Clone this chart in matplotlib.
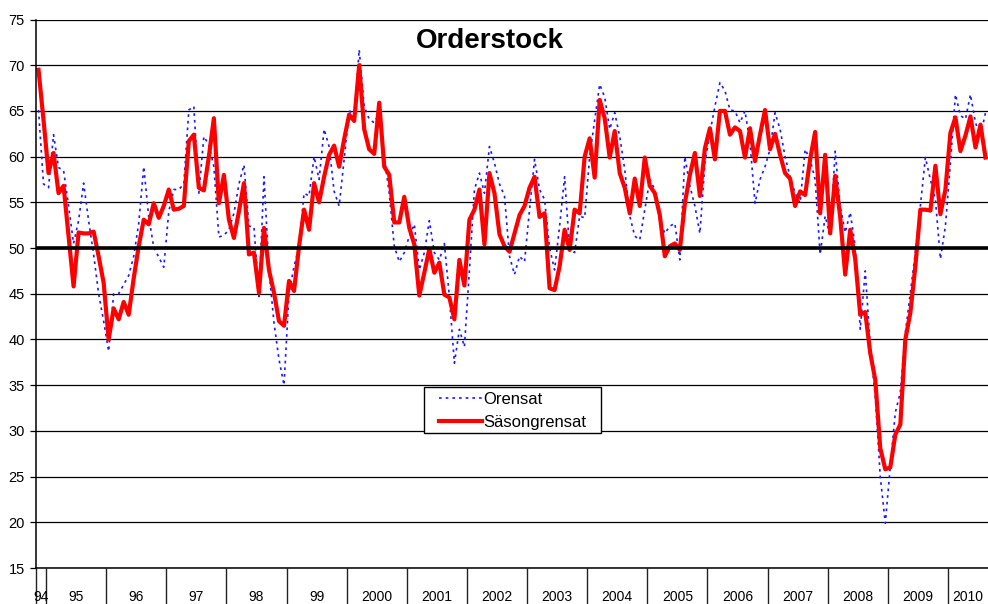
import matplotlib
matplotlib.use('Agg')
import matplotlib.pyplot as plt
import matplotlib.patches as mpatches
import numpy as np
import pandas as pd

plt.rcParams['font.family'] = ['Liberation Sans', 'DejaVu Sans']

# Monthly data, Nov 1994 .. Aug 2010
start_month = '1994-11'

orensat = [
    65.1, 57.0,
    56.6, 62.4, 58.8, 58.5, 54.6, 50.5, 53.0, 57.1, 53.0, 49.3, 45.0, 42.0,
    38.7, 45.0, 45.0, 46.0, 47.0, 49.1, 52.7, 58.9, 53.4, 50.1, 49.0, 47.9,
    54.0, 56.4, 56.4, 57.0, 65.1, 65.5, 56.0, 62.2, 61.3, 58.9, 51.2, 51.4,
    52.0, 53.8, 57.0, 59.1, 52.4, 52.3, 44.7, 57.8, 47.6, 41.8, 37.8, 35.0,
    45.1, 48.0, 50.2, 56.0, 55.7, 60.0, 57.5, 63.0, 61.1, 56.2, 54.6, 59.7,
    65.1, 64.1, 71.7, 65.5, 64.1, 63.7, 64.8, 60.0, 56.0, 50.2, 48.5, 49.5,
    51.3, 52.6, 47.6, 49.5, 53.0, 49.5, 48.7, 50.5, 44.7, 37.4, 41.1, 39.2,
    47.6, 56.4, 58.2, 56.0, 61.1, 59.3, 57.0, 55.7, 49.1, 47.1, 49.1, 48.5,
    54.2, 59.7, 56.4, 55.3, 50.0, 47.6, 52.4, 57.8, 49.8, 49.5, 53.5, 53.3,
    60.0, 64.0, 67.9, 66.5, 63.0, 64.8, 62.2, 58.6, 53.5, 51.3, 50.9, 54.2,
    57.5, 56.4, 53.1, 51.6, 52.4, 52.7, 48.7, 60.0, 56.8, 54.6, 51.6, 59.3,
    62.6, 65.5, 68.1, 67.2, 65.1, 65.0, 63.7, 65.0, 61.5, 54.9, 57.5, 58.9,
    60.8, 64.8, 63.0, 60.0, 57.8, 56.0, 54.9, 60.8, 59.7, 57.5, 49.3, 53.5,
    51.3, 60.6, 54.6, 51.7, 53.9, 50.2, 41.1, 47.5, 39.3, 33.8, 25.0, 19.9,
    26.1, 32.0, 34.2, 40.7, 45.1, 49.5, 54.6, 59.9, 57.5, 55.3, 48.8, 52.4,
    59.3, 66.8, 64.5, 64.1, 66.8, 63.7, 62.3, 64.8,
]

sasongrensat = [
    69.5, 64.0,
    58.2, 60.4, 56.0, 56.8, 51.3, 45.8, 51.7, 51.6, 51.6, 51.8, 49.1, 46.2,
    40.0, 43.4, 42.2, 44.1, 42.7, 46.7, 50.2, 53.1, 52.6, 54.9, 53.3, 54.6,
    56.4, 54.2, 54.3, 54.6, 61.7, 62.4, 56.6, 56.3, 60.0, 64.2, 54.9, 58.0,
    53.1, 51.1, 54.0, 57.1, 49.3, 49.5, 45.1, 52.2, 47.6, 45.1, 42.0, 41.5,
    46.4, 45.3, 50.2, 54.2, 52.0, 57.1, 55.0, 57.8, 60.2, 61.2, 58.9, 61.9,
    64.6, 63.9, 70.0, 63.0, 60.8, 60.3, 65.9, 58.9, 58.0, 52.8, 52.8, 55.6,
    52.2, 50.4, 44.8, 47.3, 49.9, 47.3, 48.4, 44.9, 44.6, 42.2, 48.7, 45.9,
    53.1, 54.2, 56.4, 50.4, 58.2, 56.0, 51.5, 50.2, 49.6, 51.6, 53.6, 54.6,
    56.6, 57.8, 53.4, 53.8, 45.6, 45.4, 48.0, 52.0, 49.8, 54.2, 53.8, 60.0,
    62.0, 57.7, 66.2, 64.2, 59.9, 62.8, 58.2, 56.6, 53.8, 57.6, 54.6, 59.9,
    56.8, 56.0, 53.6, 49.1, 50.2, 50.5, 49.8, 54.9, 58.0, 60.4, 55.7, 60.9,
    63.1, 59.7, 65.0, 65.0, 62.4, 63.2, 62.8, 59.9, 63.1, 59.5, 62.4, 65.1,
    60.8, 62.5, 60.2, 58.2, 57.6, 54.6, 56.2, 55.8, 59.7, 62.7, 53.8, 60.2,
    51.6, 57.9, 53.4, 47.1, 52.0, 48.8, 42.7, 43.0, 38.5, 35.6, 28.1, 25.8,
    26.0, 29.6, 30.7, 40.0, 42.9, 48.0, 54.2, 54.2, 54.1, 59.0, 53.7, 56.4,
    62.6, 64.3, 60.6, 62.3, 64.4, 61.0, 63.5, 59.9,
]

year_labels = ['94', '95', '96', '97', '98', '99', '2000', '2001', '2002',
               '2003', '2004', '2005', '2006', '2007', '2008', '2009', '2010']

n = len(sasongrensat)
months = pd.period_range(start_month, periods=n, freq='M')
x = np.arange(n)

W, H = 988, 604
fig = plt.figure(figsize=(W / 100, H / 100), dpi=100)
ax_left, ax_right, ax_top, ax_bottom = 36, 988, 19.5, 568
ax = fig.add_axes([ax_left / W, 1 - ax_bottom / H, (ax_right - ax_left) / W,
                   (ax_bottom - ax_top) / H])

ax.plot(x, orensat, color='#1a1aff', lw=1.2, linestyle=(0, (1.6, 2.4)),
        label='Orensat', zorder=2)
ax.plot(x, sasongrensat, color='#ff0000', lw=3.0, label='Säsongrensat',
        zorder=2.5, solid_joinstyle='round')
ax.axhline(50, color='black', lw=2.6, zorder=3)

ax.set_xlim(-0.5, n - 0.5)
ax.set_ylim(15, 75)
ax.set_yticks(np.arange(15, 76, 5))
ax.yaxis.grid(True, color='black', lw=0.9, zorder=0)
ax.set_axisbelow(True)

# year boundaries & label centres
bounds = [-0.5] + [i - 0.5 for i, m in enumerate(months) if m.month == 1 and i > 0] + [n - 0.5]
centers = [(a + b) / 2 for a, b in zip(bounds[:-1], bounds[1:])]
ax.set_xticks(bounds[:-1])
ax.set_xticklabels([])
ax.set_xticks(centers, minor=True)
ax.set_xticklabels(year_labels, minor=True)
ax.tick_params(axis='x', which='major', direction='out', length=27, width=1.0,
               color='#222222')
ax.tick_params(axis='x', which='minor', length=0, pad=15.5, labelsize=10)
ax.tick_params(axis='y', direction='out', length=4, width=0.9, pad=4,
               labelsize=10.5)

for s in ['top', 'right']:
    ax.spines[s].set_visible(False)
for s in ['left', 'bottom']:
    ax.spines[s].set_color('black')
    ax.spines[s].set_linewidth(1.1)

fig.text(490 / W, 1 - 48.3 / H, 'Orderstock', ha='center', va='baseline',
         fontsize=20, fontweight='bold')


def to_ax(px, py):
    return ((px - ax_left) / (ax_right - ax_left), (ax_bottom - py) / (ax_bottom - ax_top))


# legend box
bx0, by0 = to_ax(424.3, 432.7)
bx1, by1 = to_ax(601, 387.3)
ax.add_patch(mpatches.Rectangle((bx0, by0), bx1 - bx0, by1 - by0,
                                transform=ax.transAxes, facecolor='white',
                                edgecolor='black', lw=1.0, zorder=4))
leg = ax.legend(loc='upper left', bbox_to_anchor=to_ax(439, 391.5),
                fontsize=12, frameon=False, borderpad=0, handlelength=2.55,
                handletextpad=0.12, labelspacing=0.5, borderaxespad=0)
leg.set_zorder(5)

fig.savefig('out.png', dpi=100)
